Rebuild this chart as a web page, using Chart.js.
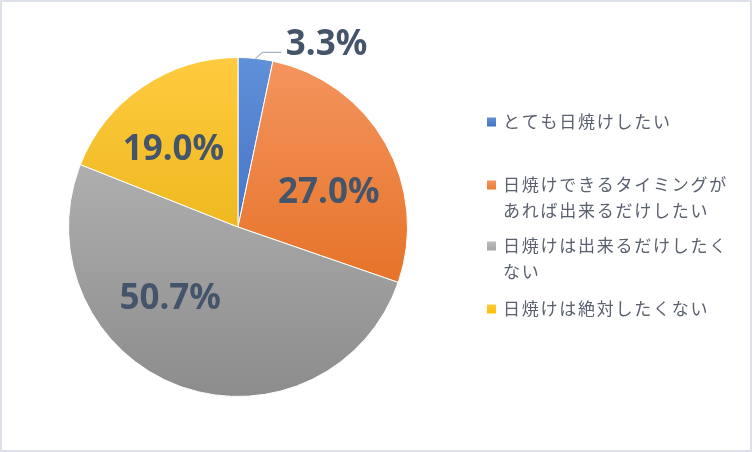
<!DOCTYPE html>
<html>
<head>
<meta charset="utf-8">
<script src="https://cdn.jsdelivr.net/npm/chart.js@4/dist/chart.umd.min.js"></script>
<style>
html,body{margin:0;padding:0;background:#fff;}
canvas{display:block;}
</style>
</head>
<body>
<canvas id="c" width="752" height="452"></canvas>
<script>
// ---- data ----
const categories = [
  "とても日焼けしたい",
  "日焼けできるタイミングがあれば出来るだけしたい",
  "日焼けは出来るだけしたくない",
  "日焼けは絶対したくない"
];
const values = [3.3, 27.0, 50.7, 19.0];

// ---- styles ----
const topColors = ["#6090D8", "#F4955F", "#BEBEBE", "#FFCB3F"];
const bottomColors = ["#2C5CB5", "#DF620D", "#8C8C8C", "#DDA600"];
const legendColors = ["#4472C4", "#ED7D31", "#A5A5A5", "#FFC000"];
const labelPlacement = [
  {outside: true},
  {along: 0.576, radial: 0.578},
  {along: 0.631, radial: 0.574},
  {along: 0.43, radial: 0.606}
];

function sliceFill(ctx) {
  const chart = ctx.chart;
  const area = chart.chartArea;
  const i = ctx.dataIndex;
  if (!area) return legendColors[i];
  const g = chart.ctx.createLinearGradient(0, area.top, 0, area.bottom);
  g.addColorStop(0, topColors[i]);
  g.addColorStop(1, bottomColors[i]);
  return g;
}

const borderPlugin = {
  id: 'frame',
  beforeDraw(chart) {
    const c = chart.ctx;
    c.save();
    c.fillStyle = '#fff';
    c.fillRect(0, 0, chart.width, chart.height);
    c.strokeStyle = '#DEE2E8';
    c.lineWidth = 2;
    c.strokeRect(1, 1, chart.width - 2, chart.height - 2);
    c.restore();
  }
};

const labelPlugin = {
  id: 'sliceLabels',
  afterDatasetsDraw(chart) {
    const c = chart.ctx;
    const meta = chart.getDatasetMeta(0);
    const total = values.reduce((a, b) => a + b, 0);
    c.save();
    c.font = 'bold 35px "Noto Sans", "DejaVu Sans", sans-serif';
    c.fillStyle = '#44546A';
    c.textAlign = 'center';
    c.textBaseline = 'alphabetic';
    meta.data.forEach((el, i) => {
      const p = el.getProps(['x', 'y', 'startAngle', 'endAngle', 'outerRadius'], true);
      const txt = (values[i] / total * 100).toFixed(1) + '%';
      const pl = labelPlacement[i];
      if (pl.outside) {
        const a = (p.startAngle + p.endAngle) / 2;
        const ax = p.x + Math.cos(a) * p.outerRadius;
        const ay = p.y + Math.sin(a) * p.outerRadius;
        const ex = ax + 7, ey = ay - 6;
        const hx = ex + 19;
        c.strokeStyle = '#A9B4C2';
        c.lineWidth = 1.2;
        c.beginPath();
        c.moveTo(ax, ay);
        c.lineTo(ex, ey);
        c.lineTo(hx, ey);
        c.stroke();
        c.fillText(txt, hx + 45, ey - 10 + 12.5);
      } else {
        const a = p.startAngle + pl.along * (p.endAngle - p.startAngle);
        const r = p.outerRadius * pl.radial;
        const x = p.x + Math.cos(a) * r;
        const y = p.y + Math.sin(a) * r;
        c.fillText(txt, x, y + 12.5);
      }
    });
    c.restore();
  }
};

const legendPlugin = {
  id: 'sideLegend',
  afterDraw(chart) {
    const c = chart.ctx;
    const boxX = 487, textX = 503, maxW = 228, spacing = 1.75, lineH = 26;
    const itemYs = [122, 185, 246, 309];
    c.save();
    c.font = '17px "Noto Sans CJK JP", "Noto Sans", sans-serif';
    c.textBaseline = 'middle';
    c.textAlign = 'left';
    categories.forEach((label, i) => {
      // wrap text
      const lines = [];
      let cur = '', w = 0;
      for (const ch of label) {
        const cw = c.measureText(ch).width + spacing;
        if (w + cw > maxW && cur) { lines.push(cur); cur = ''; w = 0; }
        cur += ch; w += cw;
      }
      if (cur) lines.push(cur);
      const y0 = itemYs[i];
      const g = c.createLinearGradient(0, y0 - 4.5, 0, y0 + 4.5);
      g.addColorStop(0, topColors[i]);
      g.addColorStop(1, legendColors[i]);
      c.fillStyle = g;
      c.fillRect(boxX, y0 - 4.5, 9, 9);
      c.fillStyle = '#59606E';
      lines.forEach((ln, k) => {
        let x = textX;
        for (const ch of ln) {
          c.fillText(ch, x, y0 + k * lineH);
          x += c.measureText(ch).width + spacing;
        }
      });
    });
    c.restore();
  }
};

new Chart(document.getElementById('c'), {
  type: 'pie',
  data: {
    labels: categories,
    datasets: [{
      data: values,
      backgroundColor: sliceFill,
      borderColor: '#FFFFFF',
      borderWidth: 1
    }]
  },
  options: {
    responsive: false,
    animation: false,
    devicePixelRatio: 1,
    layout: {padding: {left: 68, top: 57, right: 344, bottom: 55}},
    plugins: {
      legend: {display: false},
      tooltip: {enabled: false}
    }
  },
  plugins: [borderPlugin, labelPlugin, legendPlugin]
});
</script>
</body>
</html>
